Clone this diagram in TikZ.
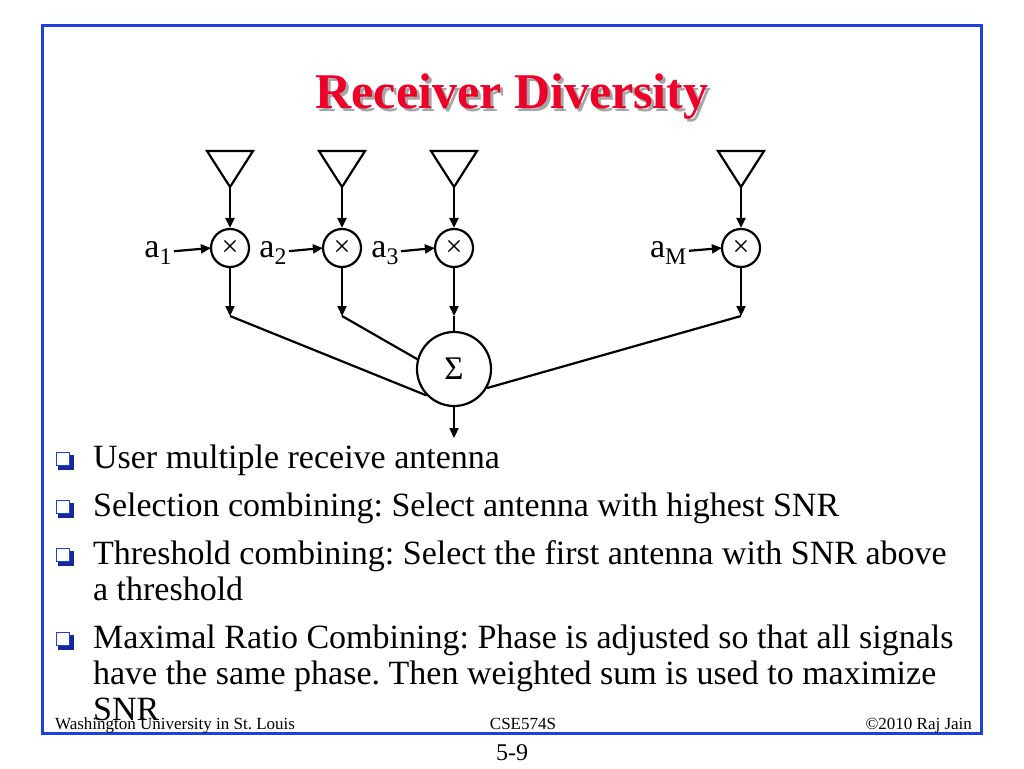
\documentclass[tikz,border=0pt]{standalone}
\usepackage{fontspec}
\setmainfont{Liberation Serif}
\usetikzlibrary{arrows.meta}
\definecolor{frameblue}{RGB}{30,64,222}
\definecolor{titlered}{RGB}{238,0,40}
\definecolor{bulletshade}{RGB}{20,40,150}
\frenchspacing

\begin{document}
\begin{tikzpicture}[x=1pt, y=-1pt, line width=2.2pt,
  >={Triangle[length=10pt,width=9pt]},
  mult/.style={draw, circle, minimum size=38pt, inner sep=0pt, font=\fontsize{30}{30}\selectfont},
  lbl/.style={inner sep=1pt, font=\fontsize{34}{34}\selectfont},
  bul/.style={draw=frameblue, fill=white, line width=1.6pt, minimum size=13pt, inner sep=0pt},
  txt/.style={anchor=base west, inner sep=0pt, font=\fontsize{34}{34}\selectfont},
  foot/.style={anchor=base, inner sep=0pt, font=\fontsize{17}{17}\selectfont}]
\useasboundingbox (0,0) rectangle (1024,768);
\fill[white] (0,0) rectangle (1024,768);
\draw[frameblue, line width=3pt] (42,26) rectangle (981,733);

% title
\node[anchor=base, text=black!35, font=\fontsize{50}{50}\bfseries] (shadow) at (515,111) {Receiver Diversity};
\node[anchor=base, text=titlered, font=\fontsize{50}{50}\bfseries] (title) at (512,108) {Receiver Diversity};

% antennas
\draw (207,151) -- (253,151) -- (230,187) coordinate (t1) -- cycle;
\draw (319,151) -- (365,151) -- (342,187) coordinate (t2) -- cycle;
\draw (431,151) -- (477,151) -- (454,187) coordinate (t3) -- cycle;
\draw (718,151) -- (764,151) -- (741,187) coordinate (t4) -- cycle;

% multipliers
\node[mult] (m1) at (230,248) {×};
\node[mult] (m2) at (342,248) {×};
\node[mult] (m3) at (454,248) {×};
\node[mult] (m4) at (741,248) {×};

\node[lbl, anchor=base east] (a1) at (174,257) {a\textsubscript{1}};
\node[lbl, anchor=base east] (a2) at (289,257) {a\textsubscript{2}};
\node[lbl, anchor=base east] (a3) at (401,257) {a\textsubscript{3}};
\node[lbl, anchor=base east] (a4) at (689,257) {a\textsubscript{M}};

\path[->] (t1) edge (m1) (t2) edge (m2) (t3) edge (m3) (t4) edge (m4);
\path[->] (a1) edge ([xshift=1pt]m1.west) (a2) edge ([xshift=1pt]m2.west)
  (a3) edge ([xshift=1pt]m3.west) (a4) edge ([xshift=1pt]m4.west);

% summer
\node[draw, circle, minimum size=74pt, inner sep=0pt, font=\fontsize{33}{33}\selectfont] (sum) at (454,369) {Σ};
\coordinate (j1) at (230,316);
\coordinate (j2) at (342,316);
\coordinate (j3) at (454,316);
\coordinate (j4) at (741,316);
\coordinate (out) at (454,438);
\path[->] (m1) edge (j1) (m2) edge (j2) (m3) edge (j3) (m4) edge (j4);
\draw (j1) -- (sum.224);
\draw (j2) -- (sum.165);
\draw (j3) -- (sum.north);
\draw (j4) -- (sum.330);
\path[->] (sum) edge (out);

% bullets
\fill[bulletshade] (58,455) rectangle (74,470);
\node[bul] (b1) at (63,459) {};
\fill[bulletshade] (58,503) rectangle (74,518);
\node[bul] (b2) at (63,507) {};
\fill[bulletshade] (58,551) rectangle (74,566);
\node[bul] (b3) at (63,555) {};
\fill[bulletshade] (58,635) rectangle (74,650);
\node[bul] (b4) at (63,639) {};
\node[txt] (l1) at (92,468) {User multiple receive antenna};
\node[txt] (l2) at (92,516) {Selection combining: Select antenna with highest SNR};
\node[txt] (l3) at (92,564) {Threshold combining: Select the first antenna with SNR above};
\node[txt] (l3b) at (92,600) {a threshold};
\node[txt] (l4) at (92,648) {Maximal Ratio Combining: Phase is adjusted so that all signals};
\node[txt] (l4b) at (92,684) {have the same phase. Then weighted sum is used to maximize};
\node[txt] (l4c) at (92,720) {SNR};

% footer
\node[foot, anchor=base west] (f1) at (54,729) {Washington University in St. Louis};
\node[foot] (f2) at (523,729) {CSE574S};
\node[foot, anchor=base east] (f3) at (973,729) {©2010 Raj Jain};
\node[anchor=base, inner sep=0pt, font=\fontsize{24}{24}\selectfont] (page) at (512,760) {5-9};
\end{tikzpicture}
\end{document}
